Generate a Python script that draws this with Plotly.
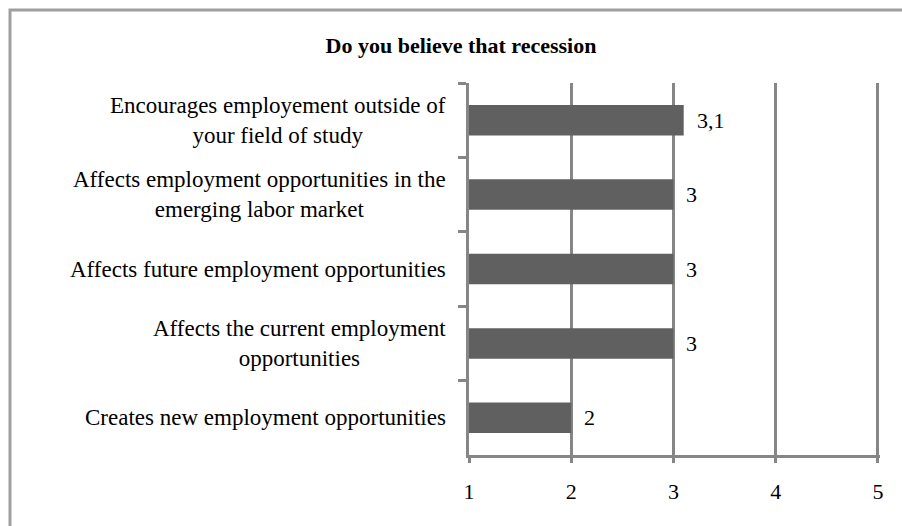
import plotly.graph_objects as go

title = "Do you believe that recession"
categories = [
    "Encourages employement outside of<br>your field of study",
    "Affects employment opportunities in the<br>emerging labor market",
    "Affects future employment opportunities",
    "Affects the current employment<br>opportunities",
    "Creates new employment opportunities",
]
values = [3.1, 3, 3, 3, 2]
value_labels = ["3,1", "3", "3", "3", "2"]
x_ticks = [1, 2, 3, 4, 5]

FONT = "Liberation Serif"
GRID = "#868686"
BAR = "#606060"

fig = go.Figure()
fig.add_trace(go.Bar(
    y=categories, x=values, orientation="h",
    marker=dict(color=BAR, line=dict(width=0)),
    hoverinfo="skip",
))

annotations = []
for c in categories:
    annotations.append(dict(
        x=0, xref="paper", y=c, yref="y", text=c, showarrow=False,
        xanchor="right", yanchor="middle", align="center", xshift=-21,
        font=dict(family=FONT, size=23, color="#000000"),
    ))
for c, v, lab in zip(categories, values, value_labels):
    annotations.append(dict(
        x=v, xref="x", y=c, yref="y", text=lab, showarrow=False,
        xanchor="left", yanchor="middle", xshift=11,
        font=dict(family=FONT, size=22, color="#000000"),
    ))

fig.update_layout(
    width=902, height=526,
    margin=dict(l=469, r=22, t=83, b=71),
    paper_bgcolor="white", plot_bgcolor="white",
    showlegend=False,
    bargap=0.59,
    title=dict(text="<b>" + title + "</b>", x=461 / 902, xanchor="center",
               y=1 - 45 / 526, yanchor="middle",
               font=dict(family=FONT, size=22, color="#000000")),
    annotations=annotations,
    shapes=[dict(type="rect", xref="paper", yref="paper",
                 x0=(10 - 469) / 411, x1=1.2,
                 y0=-0.4, y1=1 + (83 - 10) / 372,
                 line=dict(color="#A0A0A0", width=3), fillcolor="rgba(0,0,0,0)",
                 layer="below")],
)
fig.update_xaxes(
    range=[1, 5.02], tickvals=x_ticks, ticktext=[str(t) for t in x_ticks],
    showgrid=True, gridcolor=GRID, gridwidth=3,
    showline=True, linecolor=GRID, linewidth=3,
    ticks="outside", ticklen=5, tickwidth=3, tickcolor=GRID,
    ticklabelstandoff=10,
    tickfont=dict(family=FONT, size=22, color="#000000"),
    zeroline=False, fixedrange=True,
)
fig.update_yaxes(
    type="category", autorange="reversed",
    showticklabels=False, showgrid=False,
    showline=True, linecolor=GRID, linewidth=3,
    ticks="outside", tickson="boundaries", ticklen=8, tickwidth=3, tickcolor=GRID,
    zeroline=False, fixedrange=True,
)

fig.write_html("out.html")
